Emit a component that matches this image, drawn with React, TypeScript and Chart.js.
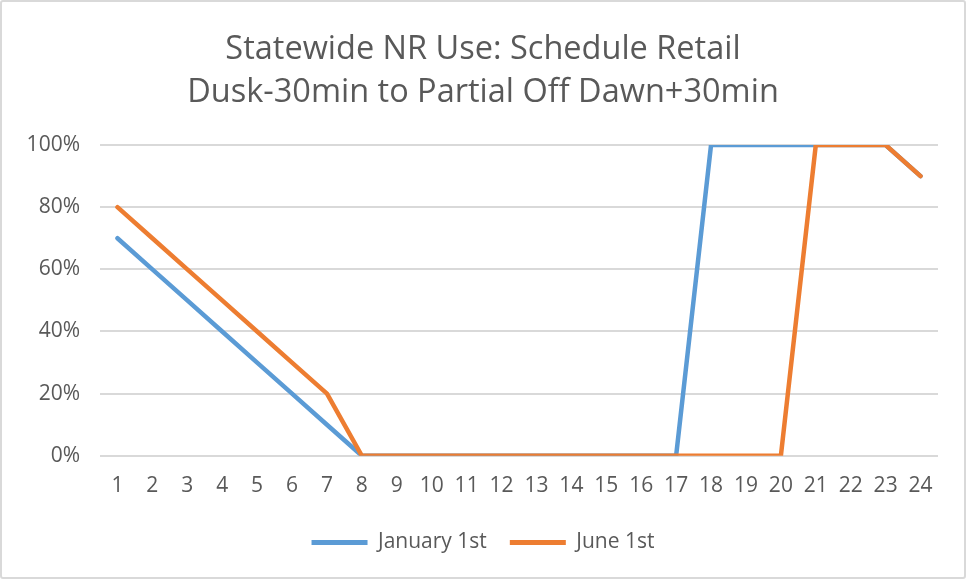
import React, { useEffect, useRef } from "react";
import { Chart, registerables } from "chart.js";

Chart.register(...registerables);

const hours = ["1","2","3","4","5","6","7","8","9","10","11","12","13","14","15","16","17","18","19","20","21","22","23","24"];
const january1st = [70,60,50,40,30,20,10,0,0,0,0,0,0,0,0,0,0,100,100,100,100,100,100,90];
const june1st = [80,70,60,50,40,30,20,0,0,0,0,0,0,0,0,0,0,0,0,0,100,100,100,90];
const titleLines = ["Statewide NR Use: Schedule Retail", "Dusk-30min to Partial Off Dawn+30min"];

const FONT = "'Open Sans', Lato, sans-serif";
const TEXT = "#595959";

export default function App() {
  const ref = useRef<HTMLCanvasElement>(null);
  useEffect(() => {
    document.body.style.margin = "0";
    const chart = new Chart(ref.current!, {
      type: "line",
      data: {
        labels: hours,
        datasets: [
          { label: "January 1st", data: january1st, borderColor: "#5B9BD5", backgroundColor: "#5B9BD5", borderWidth: 4.5, pointRadius: 0, borderCapStyle: "round", borderJoinStyle: "round", order: 1 },
          { label: "June 1st", data: june1st, borderColor: "#ED7D31", backgroundColor: "#ED7D31", borderWidth: 4.5, pointRadius: 0, borderCapStyle: "round", borderJoinStyle: "round", order: 0 },
        ],
      },
      options: {
        animation: false,
        responsive: true,
        maintainAspectRatio: false,
        layout: { padding: { top: 26, right: 26, bottom: 14, left: 26 } },
        plugins: {
          title: { display: true, text: titleLines, color: TEXT, font: { family: FONT, size: 32.5, weight: "normal", lineHeight: 1.323 }, padding: { top: 0, bottom: 31 } },
          legend: {
            position: "bottom",
            labels: {
              color: TEXT,
              font: { family: FONT, size: 21 },
              boxWidth: 56,
              boxHeight: 5,
              padding: 23,
              sort: (a: any, b: any) => a.datasetIndex - b.datasetIndex,
              generateLabels: (c: any) => c.data.datasets.map((d: any, i: number) => ({
                text: d.label, fillStyle: d.borderColor, strokeStyle: d.borderColor, lineWidth: 0, datasetIndex: i, fontColor: TEXT,
              })),
            },
          },
          tooltip: { enabled: false },
        },
        scales: {
          x: {
            offset: true,
            grid: { display: false },
            border: { display: false },
            ticks: { color: TEXT, font: { family: FONT, size: 21 }, padding: 10, maxRotation: 0, autoSkip: false },
          },
          y: {
            min: 0, max: 100,
            grid: { color: "#D9D9D9", lineWidth: 2, drawTicks: false },
            border: { display: false },
            ticks: { stepSize: 20, color: TEXT, font: { family: FONT, size: 21 }, padding: 20, callback: (v: any) => v + "%" },
            afterFit: (scale: any) => { scale.width = 72; },
          },
        },
      },
    });
    return () => chart.destroy();
  }, []);
  return (
    <div style={{ position: "fixed", left: 0, top: 0, width: 966, height: 579, boxSizing: "border-box", border: "2px solid #D9D9D9", borderRadius: 3, background: "#fff" }}>
      <div style={{ position: "relative", width: "100%", height: "100%" }}>
        <canvas ref={ref} />
      </div>
    </div>
  );
}
